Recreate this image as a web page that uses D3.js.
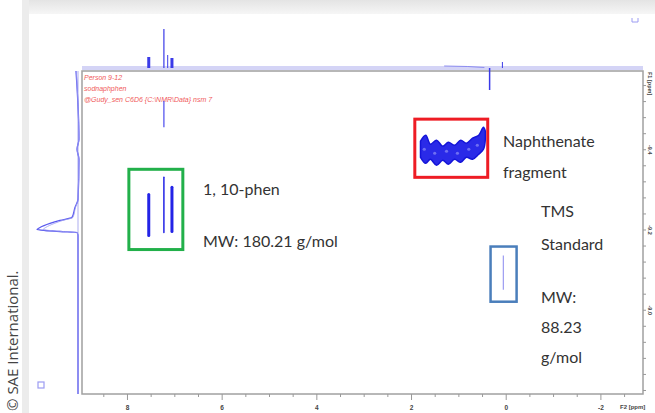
<!DOCTYPE html>
<html>
<head>
<meta charset="utf-8">
<script src="https://cdn.jsdelivr.net/npm/d3@7"></script>
<style>
  body { margin: 0; background: #fff; }
  svg { display: block; }
  .note { font-family: Lato, "Open Sans", sans-serif; font-size: 16px; fill: #333; }
  .hdr { font-family: "Liberation Sans", sans-serif; font-size: 7px; font-style: italic; fill: #f05a5a; }
  .ax text { font-family: "Liberation Sans", sans-serif; font-size: 6.5px; font-weight: bold; fill: #444; }
  .ax path, .ax line { stroke: #999; }
</style>
</head>
<body>
<div id="chart"></div>
<script>
// F2 axis (ppm), F1 axis
var f2Ticks = [8, 6, 4, 2, 0, -2];
var f1Ticks = [-9.4, -9.2, -9.0];

// 2D cross peaks of 1,10-phen: ppm, f1 start, f1 end, thickness
var phenPpm = [7.54, 7.22, 7.05];
var phenF1a = [-9.2875, -9.33, -9.305];
var phenF1b = [-9.185, -9.1925, -9.195];
var phenW = [3, 1.5, 3];

// small trace below top frame
var spikePpm = [7.22];
var spikeF1a = [-9.52];
var spikeF1b = [-9.455];

// naphthenate blob edges
var napPpm = [1.80, 1.69, 1.59, 1.46, 1.33, 1.21, 1.08, 0.95, 0.83, 0.70, 0.57, 0.47, 0.43];
var napTop = [-9.42, -9.435, -9.4125, -9.4225, -9.4075, -9.4175, -9.41, -9.4225, -9.415, -9.4275, -9.435, -9.455, -9.445];
var napBot = [-9.38, -9.365, -9.375, -9.36, -9.3725, -9.3625, -9.375, -9.3675, -9.38, -9.375, -9.3875, -9.40, -9.425];
// lighter speckles inside the blob
var speckPpm = [1.72, 1.50, 1.25, 1.02, 0.78, 0.60];
var speckF1 = [-9.40, -9.39, -9.395, -9.39, -9.40, -9.41];

// TMS
var tmsPpm = 0.05, tmsF1 = [-9.135, -9.05];

// top 1D projection sticks
var topPpm = [7.54, 7.22, 7.14, 7.05, 0.34, 0.07];
var topInt = [11, 39, 13, 10, -22, 6];
var topW = [3, 1.2, 1, 3, 1.5, 1];

// left 1D projection trace
var leftF1 = [-9.595, -9.425, -9.40, -9.375, -9.275, -9.255, -9.23, -9.2225, -9.215, -9.205, -9.20, -9.1975, -9.195, -9.1925, -9.185, -8.79];
var leftInt = [2, -1, 1, -1, 0, 3, 6, 18, 28, 38, 41, 33, 18, 1, 0, 0];

// annotation boxes: ppm1, ppm2, f1a, f1b, colour
var boxPpm1 = [7.96, 1.92, 0.32];
var boxPpm2 = [6.82, 0.38, -0.23];
var boxF1a = [-9.35, -9.475, -9.1575];
var boxF1b = [-9.15, -9.33, -9.02];
var boxColor = ["#22b04a", "#ee1c24", "#4a7ebb"];
var boxStroke = [3, 3, 2.5];

var W = 655, H = 413;
var plot = {left: 82, right: 643, top: 71, bottom: 394};

var svg = d3.select("#chart").append("svg").attr("width", W).attr("height", H);

// page shadows
var grad = svg.append("defs").append("linearGradient").attr("id", "shadeTop")
    .attr("x1", 0).attr("y1", 0).attr("x2", 0).attr("y2", 1);
grad.append("stop").attr("offset", "0%").attr("stop-color", "#e4e4e4");
grad.append("stop").attr("offset", "100%").attr("stop-color", "#f6f6f6");
svg.append("rect").attr("x", 22).attr("y", 0).attr("width", W - 22).attr("height", 14).attr("fill", "url(#shadeTop)");
svg.append("rect").attr("x", 22).attr("y", 0).attr("width", 7).attr("height", H).attr("fill", "#ececec");

var x = d3.scaleLinear().domain([8.95, -2.9]).range([plot.left, plot.right]);
var y = d3.scaleLinear().domain([-9.595, -8.79]).range([plot.top, plot.bottom]);
var topY = d3.scaleLinear().domain([0, 40]).range([68, 28]);
var leftX = d3.scaleLinear().domain([0, 41]).range([78, 37]);

// projection baselines
svg.append("line").attr("x1", plot.left).attr("x2", plot.right).attr("y1", 68).attr("y2", 68)
   .attr("stroke", "#d4d4f6").attr("stroke-width", 4);
svg.append("line").attr("x1", 78).attr("x2", 78).attr("y1", plot.top).attr("y2", plot.bottom)
   .attr("stroke", "#c8c8f4").attr("stroke-width", 1.5);

// frame
svg.append("rect").attr("x", plot.left).attr("y", plot.top)
   .attr("width", plot.right - plot.left).attr("height", plot.bottom - plot.top)
   .attr("fill", "none").attr("stroke", "#a0a0a0").attr("stroke-width", 1.5);

// axes
var xAxis = d3.axisBottom(x).tickValues(d3.range(8.5, -2.6, -0.5)).tickSize(3)
    .tickFormat(function(d) { return f2Ticks.indexOf(d) >= 0 ? d : ""; });
var gx = svg.append("g").attr("class", "ax").attr("transform", "translate(0," + plot.bottom + ")").call(xAxis);
gx.select(".domain").remove();
gx.selectAll(".tick").filter(function(d) { return f2Ticks.indexOf(d) >= 0; }).select("line").attr("y2", 6);
gx.selectAll("text").attr("dy", "1.6em");
svg.append("text").attr("class", "hdr").attr("x", 620).attr("y", 409)
   .style("font-style", "normal").style("fill", "#444").style("font-weight", "bold").style("font-size", "6px")
   .text("F2 [ppm]");

var yAxis = d3.axisRight(y).tickValues(d3.range(-9.56, -8.79, 0.04)).tickSize(3)
    .tickFormat(function(d) { return f1Ticks.some(function(t) { return Math.abs(t - d) < 1e-6; }) ? d.toFixed(1) : ""; });
var gy = svg.append("g").attr("class", "ax").attr("transform", "translate(" + plot.right + ",0)").call(yAxis);
gy.select(".domain").remove();
gy.selectAll("text").attr("x", 0).attr("y", 0).attr("dy", 0).attr("text-anchor", "middle")
  .style("font-size", "5.5px")
  .attr("transform", "translate(4.5,0) rotate(90)");
svg.append("text").attr("class", "hdr").attr("transform", "translate(647.5,72) rotate(90)")
   .style("font-style", "normal").style("fill", "#444").style("font-weight", "bold").style("font-size", "5.5px")
   .text("F1 [ppm]");

// header
var hdr = ["Person 9-12", "sodnaphphen", "@Gudy_sen C6D6 {C:\\NMR\\Data} nsm 7"];
svg.selectAll("text.hl").data(hdr).enter().append("text").attr("class", "hdr hl")
   .attr("x", 84).attr("y", function(d, i) { return 80 + i * 11; }).text(function(d) { return d; });

// top projection
svg.selectAll("line.tp").data(topPpm).enter().append("line").attr("class", "tp")
   .attr("x1", function(d) { return x(d); }).attr("x2", function(d) { return x(d); })
   .attr("y1", topY(0)).attr("y2", function(d, i) { return topY(topInt[i]); })
   .attr("stroke", "#3a3ae8").attr("stroke-width", function(d, i) { return topW[i]; });
svg.append("path").attr("fill", "none").attr("stroke", "#8c8cf0").attr("stroke-width", 1)
   .attr("d", d3.line()([[x(1.3), 66], [x(0.8), 66.5], [x(0.45), 67.5]]));

// left projection
var lineL = d3.line().x(function(d) { return leftX(d[1]); }).y(function(d) { return y(d[0]); }).curve(d3.curveMonotoneY);
svg.append("path").datum(d3.zip(leftF1, leftInt)).attr("d", lineL)
   .attr("fill", "none").attr("stroke", "#5a5aee").attr("stroke-width", 1.3);
svg.append("path").datum(d3.zip(leftF1, leftInt.map(function(v) { return v * 0.85; }))).attr("d", lineL)
   .attr("fill", "none").attr("stroke", "#9a9af4").attr("stroke-width", 0.8);

// 2D peaks
svg.selectAll("line.pk").data(phenPpm).enter().append("line").attr("class", "pk")
   .attr("x1", function(d) { return x(d); }).attr("x2", function(d) { return x(d); })
   .attr("y1", function(d, i) { return y(phenF1a[i]); }).attr("y2", function(d, i) { return y(phenF1b[i]); })
   .attr("stroke", "#2323e6").attr("stroke-width", function(d, i) { return phenW[i]; })
   .attr("stroke-linecap", "round");
svg.selectAll("line.sp").data(spikePpm).enter().append("line").attr("class", "sp")
   .attr("x1", function(d) { return x(d); }).attr("x2", function(d) { return x(d); })
   .attr("y1", function(d, i) { return y(spikeF1a[i]); }).attr("y2", function(d, i) { return y(spikeF1b[i]); })
   .attr("stroke", "#4a4aee").attr("stroke-width", 1.2);

// naphthenate blob
var area = d3.area().x(function(d) { return x(d[0]); }).y0(function(d) { return y(d[1]); }).y1(function(d) { return y(d[2]); })
    .curve(d3.curveCatmullRom);
svg.append("path").datum(d3.zip(napPpm, napTop, napBot)).attr("d", area)
   .attr("fill", "#2a2ae8").attr("stroke", "#1414d8").attr("stroke-width", 1.5).attr("stroke-linejoin", "round");
svg.selectAll("circle.sk").data(speckPpm).enter().append("circle").attr("class", "sk")
   .attr("cx", function(d) { return x(d); }).attr("cy", function(d, i) { return y(speckF1[i]); })
   .attr("r", 1.6).attr("fill", "#6f6ff2");

// TMS
svg.append("line").attr("x1", x(tmsPpm)).attr("x2", x(tmsPpm)).attr("y1", y(tmsF1[0])).attr("y2", y(tmsF1[1]))
   .attr("stroke", "#9c9cf2").attr("stroke-width", 1.2);

// annotation boxes
svg.selectAll("rect.box").data(boxPpm1).enter().append("rect").attr("class", "box")
   .attr("x", function(d) { return x(d); })
   .attr("y", function(d, i) { return y(boxF1a[i]); })
   .attr("width", function(d, i) { return x(boxPpm2[i]) - x(d); })
   .attr("height", function(d, i) { return y(boxF1b[i]) - y(boxF1a[i]); })
   .attr("fill", "none").attr("stroke", function(d, i) { return boxColor[i]; })
   .attr("stroke-width", function(d, i) { return boxStroke[i]; });

// little corner marks
svg.append("rect").attr("x", 38).attr("y", 382).attr("width", 6).attr("height", 6)
   .attr("fill", "none").attr("stroke", "#9c9cf2").attr("stroke-width", 1.2);
svg.append("path").attr("d", "M632,18 V22 H638 V18").attr("fill", "none").attr("stroke", "#9c9cf2").attr("stroke-width", 1);

// notes
var notes = [
  ["1, 10-phen", 203, 195], ["MW: 180.21 g/mol", 203, 247],
  ["Naphthenate", 503, 147], ["fragment", 503, 178],
  ["TMS", 541, 217], ["Standard", 541, 250],
  ["MW:", 541, 303], ["88.23", 541, 333], ["g/mol", 541, 363]
];
svg.selectAll("text.note").data(notes).enter().append("text").attr("class", "note")
   .attr("x", function(d) { return d[1]; }).attr("y", function(d) { return d[2]; })
   .text(function(d) { return d[0]; });

// copyright
svg.append("text").attr("transform", "translate(18,411) rotate(-90)")
   .style("font-family", "'Open Sans', sans-serif").style("font-size", "15px").style("fill", "#444")
   .text("\u00a9 SAE International.");
</script>
</body>
</html>
